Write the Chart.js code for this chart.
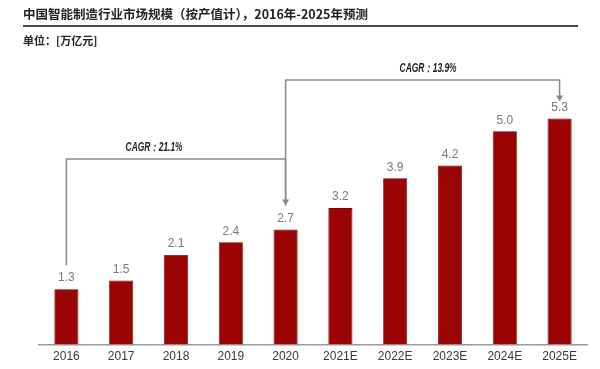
<!DOCTYPE html>
<html>
<head>
<meta charset="utf-8">
<script src="https://cdn.jsdelivr.net/npm/chart.js@4.4.1/dist/chart.umd.min.js"></script>
<style>
  html, body { margin: 0; padding: 0; background: #fff; }
  #wrap { position: relative; width: 600px; height: 369px; overflow: hidden; }
  #title { position: absolute; left: 23px; top: 5px; font: bold 12.5px "Noto Sans CJK SC", sans-serif; color: #222; line-height: 18px; white-space: nowrap; }
  #rule { position: absolute; left: 23px; top: 25px; width: 555px; height: 2px; background: #4a4a4a; }
  #unit { position: absolute; left: 23px; top: 31px; font: bold 11px "Noto Sans CJK SC", sans-serif; color: #222; line-height: 18px; white-space: nowrap; }
  #myChart { position: absolute; left: 0; top: 0; }
</style>
</head>
<body>
<div id="wrap">
  <canvas id="myChart" width="600" height="369"></canvas>
  <div id="title">中国智能制造行业市场规模（按产值计），2016年-2025年预测</div>
  <div id="rule"></div>
  <div id="unit">单位：[万亿元]</div>
</div>
<script>
'use strict';

const xlabels = ['2016', '2017', '2018', '2019', '2020', '2021E', '2022E', '2023E', '2024E', '2025E'];
const values = [1.3, 1.5, 2.1, 2.4, 2.7, 3.2, 3.9, 4.2, 5.0, 5.3];

// CAGR brackets: start bar index, end bar index, text
const cagrFrom = [0, 4];
const cagrTo = [4, 9];
const cagrText = ['CAGR：21.1%', 'CAGR：13.9%'];

const narrow = '"Liberation Sans Narrow", "Arial Narrow", "Liberation Sans", sans-serif';

// value labels above the bars
const valueLabels = {
  id: 'valueLabels',
  afterDatasetsDraw(chart) {
    const ctx = chart.ctx;
    const meta = chart.getDatasetMeta(0);
    ctx.save();
    ctx.font = '12px ' + narrow;
    ctx.fillStyle = '#7a7a7a';
    ctx.textAlign = 'center';
    ctx.textBaseline = 'middle';
    meta.data.forEach((bar, i) => {
      ctx.fillText(values[i].toFixed(1), bar.x, bar.y - 11);
    });
    ctx.restore();
  },
};

// bracket lines with arrows and CAGR text
const cagrLines = {
  id: 'cagrLines',
  afterDatasetsDraw(chart) {
    const ctx = chart.ctx;
    const meta = chart.getDatasetMeta(0);
    const lineY = [159, 80];
    const tipGap = [24, 17];
    const textPos = [0.4, 0.52];
    ctx.save();
    ctx.strokeStyle = '#8a8a8a';
    ctx.fillStyle = '#8a8a8a';
    ctx.lineWidth = 1.5;
    cagrFrom.forEach((from, i) => {
      const a = meta.data[from];
      const b = meta.data[cagrTo[i]];
      const tipY = b.y - tipGap[i];
      ctx.beginPath();
      ctx.moveTo(a.x, a.y - 24);
      ctx.lineTo(a.x, lineY[i]);
      ctx.lineTo(b.x, lineY[i]);
      ctx.lineTo(b.x, tipY - 5);
      ctx.stroke();
      ctx.beginPath();
      ctx.moveTo(b.x - 3.5, tipY - 6);
      ctx.lineTo(b.x + 3.5, tipY - 6);
      ctx.lineTo(b.x, tipY);
      ctx.closePath();
      ctx.fill();
    });
    ctx.font = 'italic bold 12px ' + narrow;
    ctx.fillStyle = '#1e1e1e';
    ctx.textAlign = 'center';
    ctx.textBaseline = 'middle';
    cagrFrom.forEach((from, i) => {
      const a = meta.data[from];
      const b = meta.data[cagrTo[i]];
      // squeeze the text sideways, the source uses a condensed face
      ctx.save();
      ctx.translate(a.x + (b.x - a.x) * textPos[i], lineY[i] - 11);
      ctx.scale(0.7, 1);
      ctx.fillText(cagrText[i], 0, 0);
      ctx.restore();
    });
    ctx.restore();
  },
};

drawChart();

function drawChart() {
  const ctx = document.getElementById('myChart');

  new Chart(ctx, {
    type: 'bar',
    data: {
      labels: xlabels,
      datasets: [
        {
          label: '市场规模',
          data: values,
          backgroundColor: '#9a0404',
          borderColor: '#7e0000',
          borderWidth: 0.8,
          barPercentage: 0.44,
          categoryPercentage: 1,
        },
      ],
    },
    options: {
      responsive: false,
      animation: false,
      layout: {
        padding: { left: 39, right: 13, top: 46, bottom: 0 },
      },
      plugins: {
        legend: { display: false },
        tooltip: { enabled: false },
      },
      scales: {
        y: {
          display: false,
          min: 0,
          max: 7,
        },
        x: {
          grid: { display: false, drawTicks: false },
          border: { color: '#9a9a9a', width: 1.5 },
          ticks: {
            color: '#3a3a3a',
            padding: 5,
            font: { size: 12, family: narrow },
          },
        },
      },
    },
    plugins: [valueLabels, cagrLines],
  });
}
</script>
</body>
</html>
